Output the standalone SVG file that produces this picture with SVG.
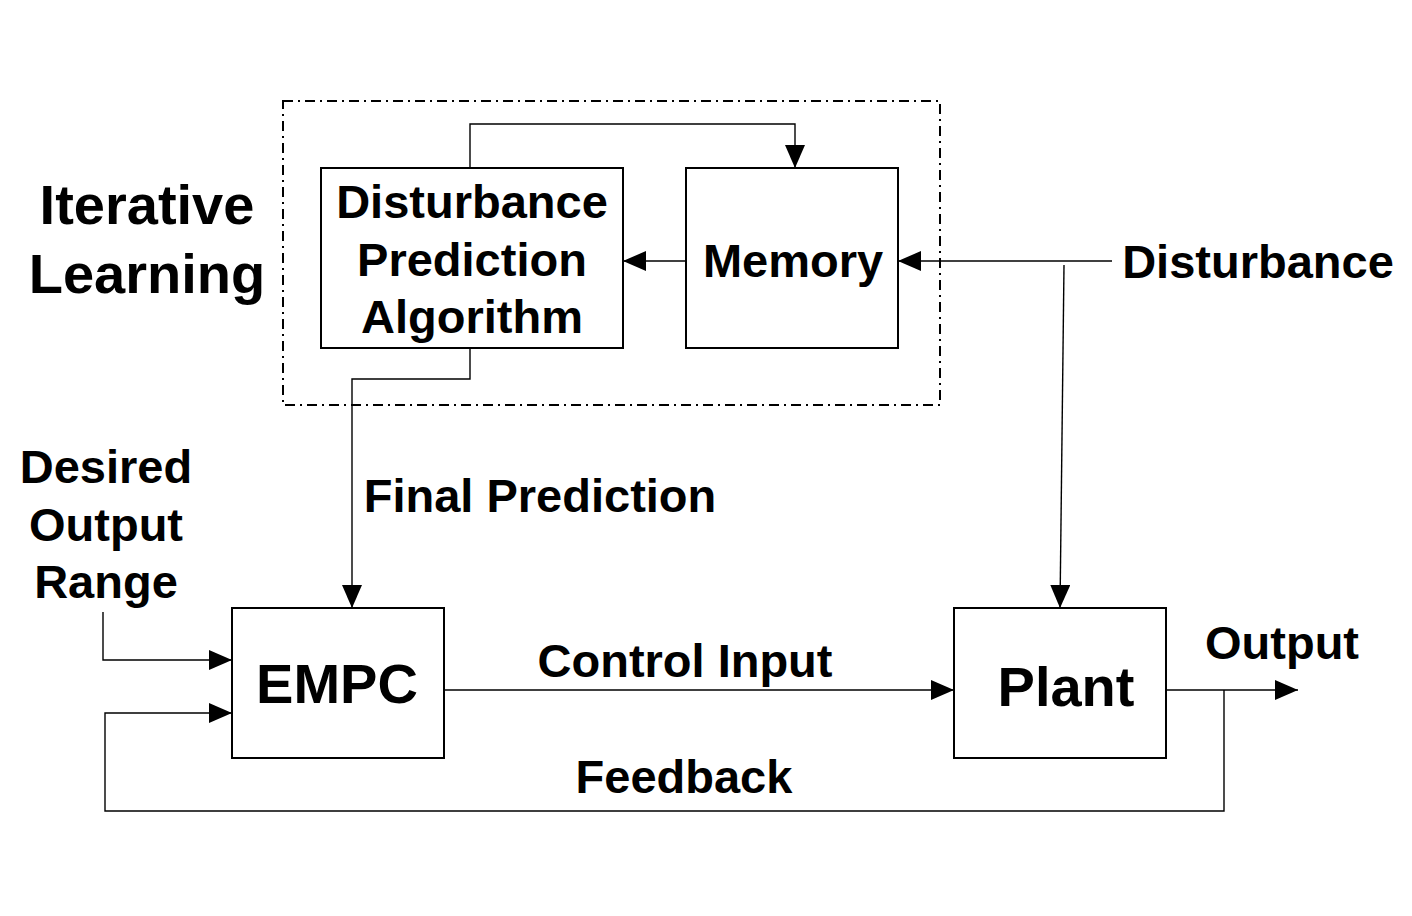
<svg xmlns="http://www.w3.org/2000/svg" width="1412" height="916" viewBox="0 0 1412 916">
<defs>
<marker id="ah" markerUnits="userSpaceOnUse" markerWidth="24" markerHeight="20" refX="23" refY="10" orient="auto">
<path d="M0,0 L23,10 L0,20 Z" fill="#000"/>
</marker>
<style>
.box{fill:#fff;stroke:#000;stroke-width:2}
.ln{fill:none;stroke:#000;stroke-width:1.4}
.t{font-family:"Liberation Sans",Arial,sans-serif;font-weight:bold;fill:#000}
.m{font-size:47px}
.l{font-size:56px}
</style>
</defs>
<rect width="1412" height="916" fill="#fff"/>
<g id="iterative-learning-group">
<rect x="283" y="101" width="657" height="304" fill="none" stroke="#000" stroke-width="2" stroke-dasharray="10,5,2,5"/>
<text class="t l" x="147" y="224" text-anchor="middle">Iterative</text>
<text class="t l" x="147" y="293" text-anchor="middle">Learning</text>
</g>
<g id="connectors">
<path class="ln" d="M470,168 V124 H795 V168" marker-end="url(#ah)"/>
<path class="ln" d="M686,261 H623" marker-end="url(#ah)"/>
<path class="ln" d="M1112,261 H898" marker-end="url(#ah)"/>
<path class="ln" d="M1064,265 L1060,608" marker-end="url(#ah)"/>
<path class="ln" d="M470,348 V379 H352 V608" marker-end="url(#ah)"/>
<path class="ln" d="M103,612 V660 H232" marker-end="url(#ah)"/>
<path class="ln" d="M444,690 H954" marker-end="url(#ah)"/>
<path class="ln" d="M1166,690 H1298" marker-end="url(#ah)"/>
<path class="ln" d="M1224,690 V811 H105 V713 H232" marker-end="url(#ah)"/>
</g>
<g id="dpa">
<rect class="box" x="321" y="168" width="302" height="180"/>
<text class="t m" x="472" y="218" text-anchor="middle">Disturbance</text>
<text class="t m" x="472" y="276" text-anchor="middle">Prediction</text>
<text class="t m" x="472" y="333" text-anchor="middle">Algorithm</text>
</g>
<g id="memory">
<rect class="box" x="686" y="168" width="212" height="180"/>
<text class="t m" x="793" y="277" text-anchor="middle">Memory</text>
</g>
<g id="empc">
<rect class="box" x="232" y="608" width="212" height="150"/>
<text class="t l" x="337" y="703" text-anchor="middle">EMPC</text>
</g>
<g id="plant">
<rect class="box" x="954" y="608" width="212" height="150"/>
<text class="t l" x="1066" y="706" text-anchor="middle">Plant</text>
</g>
<g id="labels">
<text class="t m" x="1258" y="278" text-anchor="middle">Disturbance</text>
<text class="t m" x="106" y="483" text-anchor="middle">Desired</text>
<text class="t m" x="106" y="541" text-anchor="middle">Output</text>
<text class="t m" x="106" y="598" text-anchor="middle">Range</text>
<text class="t m" x="540" y="512" text-anchor="middle">Final Prediction</text>
<text class="t m" x="685" y="677" text-anchor="middle">Control Input</text>
<text class="t m" x="1282" y="659" text-anchor="middle">Output</text>
<text class="t m" x="684" y="793" text-anchor="middle">Feedback</text>
</g>
</svg>
